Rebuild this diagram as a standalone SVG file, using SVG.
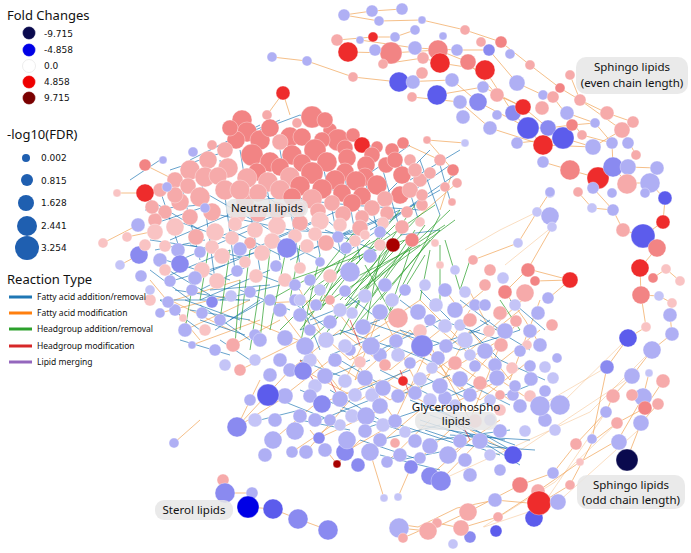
<svg xmlns="http://www.w3.org/2000/svg" width="691" height="553" viewBox="0 0 691 553">
<style>
text{font-family:"Noto Sans","DejaVu Sans",sans-serif;fill:#111}
.t{font-size:13px}.v{font-size:9px;font-family:"DejaVu Sans",sans-serif}.r{font-size:8.5px}
.lab{font-size:11.5px;text-anchor:middle}
.box{fill:#e6e6e6;fill-opacity:0.85}
circle{stroke:#fff;stroke-width:0.6;stroke-opacity:0.55}
.p1{fill:#f9c3c3}.p2{fill:#f6aaaa}.p3{fill:#f28484}.p4{fill:#ee2c2c}.p5{fill:#a80000}
.l1{fill:#c4c4f7}.l2{fill:#afaff4}.l3{fill:#8a8af0}.l4{fill:#5c5cec}.l5{fill:#0000e6}.l6{fill:#0a0a4e}
.lg{fill:#1f5fb0;stroke:none}
.eb{stroke:#1f77b4;stroke-width:0.8;fill:none;stroke-opacity:0.85}
.eo{stroke:#f0a050;stroke-width:0.8;fill:none;stroke-opacity:0.85}
.eo2{stroke:#f0a050;stroke-width:0.7;fill:none;stroke-opacity:0.5}
.eg{stroke:#2ca02c;stroke-width:0.9;fill:none;stroke-opacity:0.8}
.er{stroke:#d62728;stroke-width:0.8;fill:none;stroke-opacity:0.8}
</style>
<rect width="691" height="553" fill="#fff"/>
<g id="connectors">
<path class="eo" d="M272 57L307 61L353 77L399 82L452 80L478 102L528 128L548 128L572 125L595 123M344 15L372 11L402 9M344 15L379 21L422 20L465 30L501 42L530 65L560 88L580 100L607 113L633 122M337 40L373 37L395 37L415 30M348 52L391 53L438 50L468 62L497 95L523 107M360 40L415 48L457 50L489 50L517 83L543 95M383 64L423 58L440 63L485 70L513 113L543 145M412 97L460 102L490 128L543 145L593 147L622 130L636 155M437 95L483 87L523 107L548 128L563 138L593 147M517 143L563 138M543 162L570 170L598 178L628 167L657 168M595 123L612 143L613 167L627 183L650 183L665 199L663 222L643 236L657 248L640 268L641 295L646 327L628 338L607 367L592 439M580 100L622 130M570 75L580 100M553 97L582 135L612 143M567 113L595 123M598 178L593 188L613 210L623 230L643 236M578 192L592 208L613 210M550 192L537 212L518 243L473 260M550 216L552 227L528 269L505 292M570 280L535 281M570 280L528 269M570 280L550 297M653 278L666 269L680 281M641 295L659 296L672 303L670 315L672 334L652 350L632 376L613 396L606 412L576 444L553 473L520 485L468 512L428 531L399 528M649 373L643 397L618 440L580 462L538 491L498 517L461 528L437 523L403 538M663 381L645 408L617 423L593 441L570 485L539 504L495 500L457 508L418 527L390 523M658 404L641 423L627 459M427 140L465 143M145 193L117 193M138 225L103 243M127 237L160 230M139 255L120 265M145 165L175 180M283 93L290 115M283 93L267 115M403 143L440 160M427 140L453 170M453 170L440 210M457 183L420 215M337 464L310 430M337 464L360 440M384 498L370 452M398 497L411 467M174 443L200 420M223 480L225 493L252 493L248 507L273 509L298 519L328 530M237 427L260 380M237 427L290 370M237 427L280 400M273 440L320 400M292 452L340 420M306 452L350 400M319 438L380 410M345 452L400 420M370 452L420 410M387 462L430 420M411 467L450 430M430 476L470 440M441 480L480 440M448 455L500 420M513 455L470 430M265 303L330 300M248 320L310 345M233 345L280 320M240 370L300 340M185 330L250 300M192 345L260 320M168 302L240 280M160 313L230 295"/>
<path class="eo2" d="M628 338L560 405M607 367L538 407M632 376L513 455M617 423L555 482L483 527M645 424L558 502L484 527M652 350L590 412L441 480M537 212L500 230L465 250M552 227L505 265M606 412L534 518"/>
<path class="eo" d="M300 315L350 360L400 330L450 370L500 340M320 290L360 340L420 300L470 350L520 310M290 370L340 330L390 370L440 330L490 370L540 330M303 370L360 400L420 360L480 400L530 360M322 403L380 380L440 410L500 380L545 410M285 395L330 360L390 400L450 360L510 400M345 345L395 420L430 345L470 420L500 345M280 310L340 390L380 310L420 390L470 310M380 312L355 380L410 330L460 390L520 320M440 385L470 330L510 380L540 300M300 290L320 330M470 292L490 330L530 293M505 292L525 320L540 345M445 290L460 310L490 285M150 280L200 340M170 300L230 330"/>
<path class="eb" d="M150 200L200 230M160 215L230 240M170 240L240 210M180 260L250 230M190 280L260 250M200 300L270 270M210 240L290 210M230 260L300 240M250 250L320 220M270 240L340 210M290 260L350 230M310 250L380 220M330 240L400 210M350 250L420 200M370 230L440 190M390 220L455 175M400 200L450 165M410 180L460 150M380 200L430 150M360 180L410 145M170 170L230 150M190 160L240 135M210 150L260 125M230 140L280 120M260 130L300 115M300 115L350 140M320 125L380 150M160 190L180 250M180 180L200 260M200 170L215 280M220 160L235 270M240 150L260 270M260 150L280 260M280 150L300 265M300 150L320 255M320 150L340 250M340 150L360 260M360 160L380 240M380 160L400 230M400 160L420 225M420 160L440 215M440 165L450 200M145 210L200 205M150 240L220 250M165 260L230 280M175 290L240 300M190 310L250 320M160 300L200 330M260 200L300 195M300 200L350 205M350 205L420 210M220 215L290 230M290 230L360 235M230 250L170 275M250 265L200 290M280 285L220 300M200 190L270 230M240 175L310 230M280 180L350 240M320 180L390 235M210 205L150 225M400 235L440 230M160 265L210 295M185 300L240 320M215 330L260 300M265 300L230 320M160 300L250 300M250 340L200 305M130 180L160 160M155 250L205 240M190 245L245 258M230 230L280 255M270 235L320 260M300 225L345 255M325 230L375 250M150 270L190 300M175 280L225 265M210 290L270 285M240 290L290 310M260 275L300 290M200 320L245 335M180 340L230 355M220 340L250 360"/>
<path class="eb" d="M290 300L330 330M300 330L350 310M320 340L380 320M340 330L400 350M360 320L420 340M380 350L440 320M400 330L460 350M420 350L480 330M440 320L500 340M460 350L520 330M480 320L530 350M300 360L350 380M320 380L370 360M340 360L390 390M360 390L410 370M380 370L430 395M400 395L450 375M420 375L470 400M440 400L490 380M460 380L510 405M480 405L530 385M320 420L370 400M340 410L400 430M360 430L420 410M380 440L440 425M400 425L460 445M420 420L510 450M420 425L505 440M425 430L500 455M430 415L515 445M435 440L510 430M440 410L520 455M450 435L530 440M455 425L520 465M460 445L535 450M360 440L420 460M380 455L440 470M400 460L450 450M280 400L330 420M300 420L350 430M260 420L300 410M400 300L440 330M420 290L450 320M460 300L500 330M340 290L380 320M300 300L320 350M510 300L545 330M500 360L545 380M470 330L500 360M310 320L360 300M330 355L380 335M390 345L440 365M450 345L490 320M300 390L350 410M330 390L380 420M410 400L460 420"/>
<path class="eg" d="M380 200L300 300M400 210L320 310M420 215L340 300M440 230L360 320M430 240L380 300M410 250L390 310M395 225L330 290M415 230L350 330M425 225L370 300M440 215L400 290M405 240L290 280M385 235L270 300M370 240L280 330M360 250L300 330M350 245L320 310M430 250L420 300M440 245L440 300M445 240L460 290M420 245L350 280M400 255L310 340M390 245L340 335M380 255L365 330M365 265L395 320M435 205L310 290M450 210L335 320M445 225L300 320M415 205L325 335M455 220L360 290M210 240L200 300M230 250L220 320M250 250L240 330M270 250L260 340M285 255L270 330M300 245L290 300M320 255L300 345M340 260L320 300M195 270L185 330M240 280L235 345M260 285L250 350M500 300L520 330M470 260L460 290M410 235L345 300M395 240L355 310M425 255L385 320"/>
<path class="er" d="M300 360L320 390M400 370L410 395M350 320L360 345M460 420L470 440M330 380L340 400"/>
</g>
<g id="neutral-lipids">
<circle cx="242" cy="120" r="10" class="p3"/><circle cx="247" cy="132" r="10" class="p3"/><circle cx="267" cy="115" r="5" class="p2"/><circle cx="283" cy="93" r="7" class="p4"/><circle cx="297" cy="123" r="5" class="p2"/><circle cx="312" cy="117" r="11" class="p3"/><circle cx="290" cy="137" r="10" class="p3"/><circle cx="280" cy="142" r="8" class="p2"/><circle cx="330" cy="130" r="7" class="p3"/><circle cx="338" cy="140" r="11" class="p3"/><circle cx="353" cy="135" r="7" class="p3"/><circle cx="362" cy="145" r="8" class="p4"/><circle cx="377" cy="147" r="6" class="p3"/><circle cx="403" cy="143" r="6" class="p3"/><circle cx="427" cy="140" r="4" class="p2"/><circle cx="465" cy="143" r="4" class="l1"/>
<circle cx="260" cy="140" r="10" class="p3"/><circle cx="302" cy="137" r="9" class="p3"/><circle cx="322" cy="140" r="8" class="p3"/><circle cx="345" cy="148" r="8" class="p3"/><circle cx="372" cy="155" r="8" class="p3"/><circle cx="392" cy="150" r="7" class="p3"/><circle cx="236" cy="140" r="9" class="p3"/><circle cx="230" cy="128" r="8" class="p3"/><circle cx="325" cy="120" r="8" class="p3"/><circle cx="270" cy="128" r="9" class="p3"/>
<circle cx="225" cy="150" r="8" class="p2"/><circle cx="208" cy="160" r="9" class="p2"/><circle cx="190" cy="170" r="10" class="p2"/><circle cx="175" cy="180" r="8" class="p2"/><circle cx="160" cy="190" r="7" class="p2"/><circle cx="205" cy="177" r="10" class="p2"/><circle cx="228" cy="168" r="10" class="p2"/><circle cx="252" cy="155" r="11" class="p3"/><circle cx="270" cy="162" r="10" class="p3"/><circle cx="292" cy="155" r="10" class="p3"/><circle cx="315" cy="150" r="11" class="p3"/><circle cx="327" cy="162" r="10" class="p3"/><circle cx="347" cy="158" r="9" class="p3"/><circle cx="366" cy="165" r="9" class="p3"/><circle cx="386" cy="165" r="8" class="p3"/><circle cx="402" cy="175" r="9" class="p3"/><circle cx="420" cy="180" r="7" class="p2"/><circle cx="410" cy="160" r="6" class="p2"/><circle cx="415" cy="170" r="7" class="p2"/><circle cx="395" cy="160" r="8" class="p3"/><circle cx="257" cy="172" r="9" class="p3"/><circle cx="280" cy="167" r="9" class="p3"/><circle cx="302" cy="163" r="9" class="p3"/><circle cx="345" cy="172" r="9" class="p3"/><circle cx="365" cy="177" r="9" class="p3"/><circle cx="218" cy="176" r="9" class="p2"/><circle cx="188" cy="186" r="8" class="p2"/>
<circle cx="400" cy="195" r="9" class="p3"/><circle cx="377" cy="185" r="10" class="p3"/><circle cx="356" cy="181" r="10" class="p3"/><circle cx="335" cy="180" r="10" class="p3"/><circle cx="312" cy="173" r="11" class="p3"/><circle cx="290" cy="177" r="10" class="p2"/><circle cx="268" cy="182" r="10" class="p2"/><circle cx="247" cy="178" r="10" class="p2"/><circle cx="225" cy="190" r="10" class="p2"/><circle cx="200" cy="197" r="10" class="p2"/><circle cx="180" cy="202" r="9" class="p2"/><circle cx="165" cy="212" r="7" class="p2"/><circle cx="190" cy="217" r="8" class="p2"/><circle cx="212" cy="212" r="9" class="p2"/><circle cx="245" cy="202" r="9" class="p2"/><circle cx="240" cy="190" r="10" class="p2"/><circle cx="258" cy="193" r="9" class="p2"/><circle cx="280" cy="190" r="10" class="p2"/><circle cx="300" cy="186" r="10" class="p3"/><circle cx="322" cy="189" r="10" class="p3"/><circle cx="342" cy="193" r="9" class="p3"/><circle cx="362" cy="196" r="9" class="p3"/><circle cx="385" cy="199" r="8" class="p2"/><circle cx="410" cy="190" r="8" class="p2"/><circle cx="292" cy="197" r="9" class="p3"/><circle cx="312" cy="199" r="10" class="p2"/><circle cx="332" cy="203" r="8" class="p2"/><circle cx="352" cy="203" r="9" class="p3"/><circle cx="372" cy="208" r="8" class="p2"/><circle cx="387" cy="213" r="7" class="p2"/><circle cx="407" cy="212" r="6" class="p2"/><circle cx="422" cy="205" r="6" class="p2"/><circle cx="440" cy="160" r="6" class="p2"/><circle cx="453" cy="170" r="6" class="p3"/><circle cx="457" cy="183" r="5" class="p2"/><circle cx="430" cy="173" r="6" class="p2"/><circle cx="445" cy="187" r="5" class="p2"/><circle cx="422" cy="195" r="6" class="p2"/><circle cx="452" cy="202" r="4" class="p2"/><circle cx="175" cy="195" r="8" class="p2"/><circle cx="155" cy="220" r="7" class="p2"/>
<circle cx="145" cy="193" r="9" class="p4"/><circle cx="145" cy="165" r="6" class="p3"/><circle cx="117" cy="193" r="4" class="p1"/><circle cx="103" cy="243" r="5" class="p1"/><circle cx="127" cy="237" r="5" class="p1"/><circle cx="138" cy="225" r="7" class="l2"/><circle cx="139" cy="255" r="9" class="l3"/><circle cx="163" cy="160" r="4" class="l2"/><circle cx="193" cy="152" r="5" class="l2"/><circle cx="212" cy="145" r="5" class="p2"/><circle cx="167" cy="187" r="5" class="l2"/><circle cx="205" cy="208" r="5" class="l2"/><circle cx="152" cy="207" r="7" class="p2"/>
<circle cx="238" cy="215" r="8" class="p1"/><circle cx="258" cy="213" r="9" class="p2"/><circle cx="278" cy="211" r="9" class="p2"/><circle cx="298" cy="209" r="8" class="p2"/><circle cx="318" cy="211" r="8" class="p2"/><circle cx="343" cy="214" r="8" class="p2"/><circle cx="362" cy="217" r="7" class="p2"/><circle cx="383" cy="223" r="6" class="p1"/>
<circle cx="155" cy="232" r="8" class="p1"/><circle cx="175" cy="227" r="9" class="p1"/><circle cx="196" cy="237" r="8" class="p2"/><circle cx="215" cy="232" r="9" class="p1"/><circle cx="235" cy="224" r="7" class="p1"/><circle cx="255" cy="230" r="8" class="p1"/><circle cx="277" cy="226" r="9" class="p1"/><circle cx="300" cy="223" r="8" class="p2"/><circle cx="320" cy="221" r="9" class="p1"/><circle cx="340" cy="225" r="7" class="p1"/><circle cx="360" cy="228" r="8" class="p2"/><circle cx="380" cy="232" r="6" class="l2"/><circle cx="402" cy="227" r="7" class="p2"/><circle cx="420" cy="222" r="5" class="p1"/>
<circle cx="145" cy="245" r="6" class="p1"/><circle cx="165" cy="246" r="6" class="p1"/><circle cx="212" cy="247" r="7" class="p1"/><circle cx="232" cy="238" r="7" class="p1"/><circle cx="250" cy="243" r="6" class="p2"/><circle cx="272" cy="241" r="8" class="p1"/><circle cx="295" cy="236" r="7" class="p1"/><circle cx="315" cy="234" r="7" class="p1"/><circle cx="338" cy="237" r="6" class="l2"/><circle cx="355" cy="241" r="6" class="p1"/><circle cx="380" cy="245" r="6" class="p1"/>
<circle cx="178" cy="250" r="7" class="l2"/><circle cx="180" cy="264" r="9" class="l3"/><circle cx="160" cy="260" r="7" class="l2"/><circle cx="170" cy="281" r="6" class="l2"/><circle cx="192" cy="290" r="6" class="l2"/><circle cx="202" cy="270" r="8" class="p1"/><circle cx="222" cy="256" r="8" class="p1"/><circle cx="240" cy="249" r="7" class="l2"/><circle cx="262" cy="253" r="8" class="p1"/><circle cx="287" cy="248" r="10" class="l3"/><circle cx="307" cy="246" r="7" class="p1"/><circle cx="326" cy="243" r="8" class="p2"/><circle cx="346" cy="248" r="6" class="l2"/><circle cx="370" cy="256" r="7" class="l2"/><circle cx="350" cy="272" r="10" class="l2"/><circle cx="393" cy="245" r="7" class="p5"/><circle cx="412" cy="240" r="7" class="p3"/><circle cx="435" cy="243" r="4" class="p1"/>
<circle cx="165" cy="270" r="6" class="p1"/><circle cx="195" cy="278" r="7" class="l2"/><circle cx="245" cy="262" r="6" class="p1"/><circle cx="285" cy="280" r="7" class="p1"/><circle cx="310" cy="280" r="6" class="l2"/><circle cx="330" cy="276" r="7" class="p1"/><circle cx="270" cy="300" r="6" class="l2"/><circle cx="295" cy="300" r="6" class="l2"/><circle cx="150" cy="300" r="6" class="p1"/><circle cx="175" cy="310" r="6" class="l2"/><circle cx="220" cy="320" r="6" class="l2"/><circle cx="205" cy="330" r="6" class="p1"/><circle cx="255" cy="335" r="6" class="l2"/><circle cx="215" cy="350" r="6" class="l2"/><circle cx="225" cy="365" r="6" class="l1"/>
<circle cx="217" cy="281" r="8" class="p1"/><circle cx="237" cy="271" r="6" class="l2"/><circle cx="256" cy="276" r="7" class="p1"/><circle cx="276" cy="266" r="6" class="l2"/><circle cx="300" cy="268" r="6" class="p1"/><circle cx="320" cy="262" r="5" class="l2"/><circle cx="231" cy="296" r="6" class="l1"/><circle cx="250" cy="292" r="6" class="l2"/><circle cx="212" cy="302" r="6" class="l3"/><circle cx="202" cy="313" r="6" class="l2"/><circle cx="168" cy="302" r="6" class="l2"/><circle cx="160" cy="313" r="5" class="l2"/><circle cx="183" cy="318" r="4" class="p1"/><circle cx="185" cy="330" r="7" class="l2"/><circle cx="192" cy="345" r="4" class="l2"/><circle cx="120" cy="265" r="5" class="l1"/><circle cx="141" cy="276" r="6" class="l2"/><circle cx="200" cy="252" r="6" class="l2"/><circle cx="330" cy="300" r="5" class="p2"/><circle cx="233" cy="345" r="7" class="p2"/><circle cx="240" cy="370" r="6" class="p2"/><circle cx="150" cy="290" r="5" class="l1"/><circle cx="365" cy="235" r="5" class="p1"/>
</g>
<g id="glycerophospho-lipids">
<circle cx="295" cy="285" r="6" class="l2"/><circle cx="320" cy="290" r="6" class="l1"/><circle cx="345" cy="291" r="6" class="l2"/><circle cx="365" cy="296" r="7" class="l1"/><circle cx="385" cy="285" r="7" class="l2"/><circle cx="405" cy="290" r="6" class="l2"/><circle cx="425" cy="285" r="6" class="l1"/><circle cx="445" cy="290" r="7" class="l2"/><circle cx="465" cy="292" r="6" class="l1"/><circle cx="485" cy="285" r="6" class="p2"/><circle cx="505" cy="292" r="7" class="p3"/><circle cx="525" cy="293" r="9" class="p2"/><circle cx="528" cy="270" r="7" class="p3"/><circle cx="535" cy="281" r="5" class="p3"/><circle cx="548" cy="298" r="6" class="l2"/><circle cx="570" cy="280" r="8" class="p4"/><circle cx="518" cy="243" r="5" class="l1"/><circle cx="537" cy="212" r="5" class="l1"/><circle cx="550" cy="216" r="9" class="l2"/><circle cx="552" cy="227" r="5" class="l1"/><circle cx="550" cy="193" r="5" class="l1"/><circle cx="473" cy="260" r="5" class="p2"/><circle cx="490" cy="270" r="6" class="p2"/><circle cx="503" cy="278" r="6" class="l1"/><circle cx="455" cy="270" r="5" class="l1"/><circle cx="440" cy="265" r="4" class="p1"/>
<circle cx="300" cy="300" r="6" class="l1"/><circle cx="330" cy="322" r="7" class="l2"/><circle cx="352" cy="313" r="6" class="l1"/><circle cx="392" cy="300" r="7" class="l1"/><circle cx="430" cy="320" r="6" class="l2"/><circle cx="460" cy="325" r="6" class="l1"/><circle cx="475" cy="305" r="6" class="l2"/><circle cx="515" cy="305" r="6" class="l1"/><circle cx="527" cy="345" r="5" class="p1"/><circle cx="545" cy="367" r="6" class="l1"/><circle cx="310" cy="330" r="6" class="l2"/>
<circle cx="280" cy="310" r="7" class="l2"/><circle cx="300" cy="315" r="7" class="l2"/><circle cx="316" cy="305" r="6" class="l2"/><circle cx="340" cy="310" r="7" class="l1"/><circle cx="363" cy="327" r="8" class="l2"/><circle cx="380" cy="312" r="8" class="l2"/><circle cx="398" cy="318" r="10" class="p2"/><circle cx="418" cy="312" r="8" class="l2"/><circle cx="436" cy="305" r="7" class="l1"/><circle cx="455" cy="310" r="8" class="l2"/><circle cx="470" cy="320" r="7" class="p2"/><circle cx="485" cy="305" r="6" class="l2"/><circle cx="500" cy="313" r="7" class="p2"/><circle cx="516" cy="321" r="6" class="p2"/><circle cx="530" cy="331" r="7" class="l2"/><circle cx="538" cy="313" r="7" class="l2"/><circle cx="552" cy="325" r="6" class="p2"/><circle cx="505" cy="331" r="8" class="l2"/><circle cx="489" cy="331" r="6" class="p1"/><circle cx="445" cy="326" r="7" class="l1"/><circle cx="420" cy="331" r="7" class="p1"/>
<circle cx="310" cy="360" r="7" class="l1"/><circle cx="335" cy="360" r="7" class="l2"/><circle cx="350" cy="350" r="6" class="l2"/><circle cx="380" cy="355" r="7" class="l2"/><circle cx="398" cy="355" r="7" class="l1"/><circle cx="438" cy="358" r="7" class="l2"/><circle cx="470" cy="355" r="6" class="l1"/><circle cx="495" cy="365" r="7" class="l2"/><circle cx="512" cy="368" r="6" class="p1"/><circle cx="280" cy="360" r="7" class="l2"/><circle cx="270" cy="375" r="7" class="l2"/><circle cx="255" cy="360" r="6" class="l1"/>
<circle cx="260" cy="340" r="7" class="l2"/><circle cx="285" cy="338" r="8" class="l2"/><circle cx="305" cy="346" r="9" class="l2"/><circle cx="326" cy="340" r="8" class="l1"/><circle cx="345" cy="346" r="7" class="l1"/><circle cx="371" cy="346" r="9" class="l2"/><circle cx="396" cy="341" r="7" class="l2"/><circle cx="422" cy="346" r="11" class="l3"/><circle cx="446" cy="346" r="7" class="l2"/><circle cx="465" cy="340" r="8" class="l1"/><circle cx="485" cy="351" r="8" class="l2"/><circle cx="501" cy="345" r="7" class="p2"/><circle cx="520" cy="351" r="6" class="l2"/><circle cx="540" cy="345" r="7" class="l2"/><circle cx="557" cy="358" r="5" class="l2"/><circle cx="360" cy="362" r="6" class="p1"/><circle cx="410" cy="363" r="6" class="l2"/><circle cx="455" cy="363" r="7" class="p2"/><circle cx="475" cy="366" r="6" class="l2"/><circle cx="530" cy="366" r="6" class="l2"/><circle cx="385" cy="365" r="6" class="p2"/><circle cx="432" cy="368" r="6" class="l1"/>
<circle cx="315" cy="386" r="7" class="l1"/><circle cx="355" cy="395" r="7" class="l1"/><circle cx="372" cy="395" r="7" class="l1"/><circle cx="398" cy="396" r="7" class="l2"/><circle cx="415" cy="393" r="7" class="l2"/><circle cx="430" cy="400" r="7" class="l1"/><circle cx="445" cy="398" r="7" class="l2"/><circle cx="470" cy="395" r="7" class="l2"/><circle cx="513" cy="395" r="6" class="l2"/><circle cx="530" cy="396" r="6" class="p1"/><circle cx="553" cy="378" r="6" class="l1"/>
<circle cx="290" cy="370" r="7" class="l2"/><circle cx="303" cy="371" r="9" class="l3"/><circle cx="325" cy="376" r="8" class="l2"/><circle cx="345" cy="381" r="7" class="l1"/><circle cx="365" cy="378" r="8" class="l2"/><circle cx="383" cy="388" r="8" class="l2"/><circle cx="420" cy="379" r="7" class="l1"/><circle cx="440" cy="386" r="8" class="l2"/><circle cx="460" cy="379" r="8" class="l2"/><circle cx="480" cy="383" r="7" class="p2"/><circle cx="497" cy="378" r="8" class="l2"/><circle cx="515" cy="386" r="6" class="l2"/><circle cx="531" cy="379" r="7" class="l2"/><circle cx="545" cy="391" r="6" class="l2"/><circle cx="285" cy="396" r="8" class="l2"/><circle cx="310" cy="396" r="7" class="l2"/><circle cx="322" cy="404" r="9" class="l3"/><circle cx="340" cy="399" r="8" class="l2"/><circle cx="352" cy="416" r="7" class="l1"/><circle cx="366" cy="416" r="9" class="l2"/><circle cx="403" cy="381" r="5" class="p4"/>
<circle cx="275" cy="420" r="7" class="l2"/><circle cx="315" cy="420" r="7" class="l2"/><circle cx="340" cy="425" r="6" class="l1"/><circle cx="365" cy="431" r="7" class="l2"/><circle cx="383" cy="425" r="7" class="l1"/><circle cx="405" cy="432" r="6" class="l1"/><circle cx="380" cy="440" r="7" class="l2"/><circle cx="325" cy="450" r="7" class="l2"/><circle cx="358" cy="465" r="7" class="l3"/><circle cx="400" cy="455" r="7" class="l2"/><circle cx="420" cy="458" r="6" class="l2"/><circle cx="465" cy="460" r="7" class="l2"/><circle cx="490" cy="455" r="6" class="l1"/><circle cx="500" cy="470" r="6" class="l2"/><circle cx="470" cy="475" r="7" class="l2"/><circle cx="490" cy="420" r="6" class="l2"/><circle cx="545" cy="420" r="7" class="l2"/><circle cx="555" cy="430" r="6" class="l1"/><circle cx="265" cy="455" r="7" class="l2"/>
<circle cx="380" cy="406" r="8" class="l2"/><circle cx="395" cy="421" r="7" class="l2"/><circle cx="540" cy="406" r="10" class="l2"/><circle cx="560" cy="405" r="10" class="l2"/><circle cx="520" cy="406" r="7" class="l2"/><circle cx="500" cy="410" r="6" class="p1"/><circle cx="475" cy="421" r="7" class="p2"/><circle cx="480" cy="441" r="8" class="l2"/><circle cx="500" cy="431" r="7" class="l2"/><circle cx="525" cy="431" r="6" class="l1"/><circle cx="513" cy="455" r="9" class="l4"/><circle cx="295" cy="431" r="9" class="l2"/><circle cx="237" cy="427" r="10" class="l3"/><circle cx="273" cy="440" r="9" class="l2"/><circle cx="292" cy="452" r="6" class="l2"/><circle cx="306" cy="452" r="7" class="l2"/><circle cx="319" cy="438" r="6" class="l3"/><circle cx="345" cy="452" r="9" class="l3"/><circle cx="347" cy="440" r="9" class="l2"/><circle cx="370" cy="452" r="9" class="l2"/><circle cx="387" cy="462" r="6" class="l2"/><circle cx="395" cy="443" r="5" class="p2"/><circle cx="411" cy="467" r="7" class="l3"/><circle cx="430" cy="476" r="9" class="l3"/><circle cx="441" cy="481" r="10" class="l3"/><circle cx="448" cy="455" r="9" class="l2"/><circle cx="430" cy="446" r="8" class="l2"/><circle cx="460" cy="441" r="7" class="l2"/><circle cx="415" cy="441" r="7" class="l2"/><circle cx="337" cy="464" r="4" class="p5"/><circle cx="384" cy="498" r="4" class="l1"/><circle cx="398" cy="497" r="4" class="l1"/><circle cx="174" cy="443" r="5" class="l2"/><circle cx="255" cy="420" r="7" class="l1"/><circle cx="300" cy="416" r="7" class="l2"/><circle cx="250" cy="400" r="6" class="l2"/><circle cx="268" cy="395" r="11" class="l4"/><circle cx="490" cy="400" r="6" class="l1"/><circle cx="455" cy="405" r="6" class="l1"/><circle cx="330" cy="420" r="6" class="l2"/><circle cx="500" cy="395" r="5" class="p2"/>
</g>
<g id="sphingo-even">
<circle cx="344" cy="15" r="6" class="l2"/><circle cx="372" cy="11" r="6" class="l2"/><circle cx="402" cy="9" r="6" class="l2"/><circle cx="379" cy="21" r="5" class="l2"/><circle cx="272" cy="57" r="5" class="l2"/><circle cx="307" cy="61" r="5" class="l2"/><circle cx="353" cy="77" r="5" class="p2"/><circle cx="337" cy="40" r="6" class="p2"/><circle cx="348" cy="52" r="10" class="p4"/><circle cx="373" cy="37" r="5" class="p4"/><circle cx="391" cy="53" r="11" class="p3"/><circle cx="360" cy="40" r="4" class="l2"/><circle cx="375" cy="50" r="6" class="l2"/><circle cx="383" cy="64" r="5" class="p2"/><circle cx="395" cy="37" r="5" class="l2"/><circle cx="415" cy="30" r="5" class="l2"/><circle cx="422" cy="20" r="4" class="l2"/><circle cx="415" cy="48" r="7" class="l2"/><circle cx="399" cy="82" r="10" class="l4"/><circle cx="413" cy="82" r="7" class="l2"/><circle cx="412" cy="97" r="5" class="p2"/><circle cx="423" cy="58" r="6" class="p2"/><circle cx="422" cy="73" r="6" class="p2"/><circle cx="438" cy="50" r="10" class="p3"/><circle cx="440" cy="63" r="10" class="p4"/><circle cx="443" cy="36" r="4" class="l2"/><circle cx="437" cy="95" r="10" class="l4"/><circle cx="452" cy="80" r="7" class="l2"/><circle cx="457" cy="50" r="6" class="l2"/><circle cx="468" cy="62" r="8" class="p3"/><circle cx="465" cy="30" r="5" class="p2"/><circle cx="485" cy="70" r="10" class="p4"/><circle cx="489" cy="50" r="6" class="l3"/><circle cx="481" cy="42" r="5" class="p2"/><circle cx="501" cy="42" r="6" class="p3"/><circle cx="510" cy="54" r="5" class="l2"/><circle cx="460" cy="102" r="7" class="l2"/><circle cx="463" cy="117" r="7" class="l2"/><circle cx="478" cy="102" r="9" class="l3"/><circle cx="483" cy="87" r="6" class="l2"/><circle cx="497" cy="95" r="7" class="p2"/><circle cx="490" cy="128" r="7" class="l2"/><circle cx="497" cy="115" r="5" class="l2"/><circle cx="517" cy="83" r="8" class="l2"/><circle cx="530" cy="65" r="5" class="p2"/><circle cx="513" cy="113" r="8" class="l3"/><circle cx="523" cy="107" r="8" class="p4"/><circle cx="528" cy="128" r="11" class="l4"/><circle cx="542" cy="108" r="7" class="p2"/><circle cx="543" cy="95" r="5" class="l2"/><circle cx="553" cy="97" r="6" class="p2"/><circle cx="560" cy="88" r="5" class="p3"/><circle cx="548" cy="128" r="8" class="l3"/><circle cx="563" cy="138" r="11" class="l4"/><circle cx="543" cy="145" r="10" class="p4"/><circle cx="517" cy="143" r="6" class="l2"/><circle cx="567" cy="113" r="7" class="l2"/><circle cx="570" cy="75" r="5" class="p2"/><circle cx="580" cy="100" r="6" class="p2"/><circle cx="572" cy="125" r="6" class="p3"/><circle cx="582" cy="135" r="5" class="p2"/><circle cx="543" cy="162" r="6" class="l2"/><circle cx="570" cy="170" r="10" class="p3"/><circle cx="593" cy="147" r="8" class="l2"/><circle cx="595" cy="123" r="5" class="l2"/><circle cx="607" cy="113" r="7" class="p2"/><circle cx="622" cy="130" r="8" class="p2"/><circle cx="633" cy="122" r="6" class="p2"/><circle cx="612" cy="143" r="6" class="l2"/><circle cx="628" cy="143" r="6" class="l2"/><circle cx="598" cy="178" r="11" class="p4"/><circle cx="613" cy="167" r="10" class="l3"/><circle cx="628" cy="167" r="8" class="l2"/><circle cx="636" cy="155" r="5" class="p2"/><circle cx="593" cy="188" r="6" class="l2"/><circle cx="627" cy="184" r="10" class="p2"/><circle cx="650" cy="183" r="10" class="l2"/><circle cx="657" cy="168" r="7" class="l2"/><circle cx="665" cy="198" r="7" class="l4"/><circle cx="645" cy="193" r="5" class="l2"/><circle cx="550" cy="192" r="5" class="l2"/><circle cx="578" cy="192" r="5" class="p2"/><circle cx="612" cy="193" r="5" class="l2"/><circle cx="592" cy="208" r="5" class="l1"/><circle cx="613" cy="210" r="6" class="l2"/><circle cx="623" cy="230" r="7" class="p2"/><circle cx="643" cy="236" r="12" class="l4"/><circle cx="657" cy="248" r="9" class="p3"/><circle cx="663" cy="222" r="7" class="p4"/><circle cx="640" cy="268" r="9" class="p4"/><circle cx="653" cy="278" r="5" class="p3"/><circle cx="666" cy="269" r="5" class="p1"/><circle cx="680" cy="281" r="5" class="p1"/><circle cx="641" cy="295" r="9" class="p3"/><circle cx="659" cy="296" r="5" class="l1"/><circle cx="672" cy="303" r="5" class="p1"/><circle cx="670" cy="315" r="7" class="l2"/><circle cx="646" cy="327" r="5" class="p1"/><circle cx="672" cy="334" r="7" class="l2"/><circle cx="628" cy="338" r="9" class="l4"/><circle cx="652" cy="350" r="9" class="l2"/>
</g>
<g id="sphingo-odd">
<circle cx="607" cy="367" r="7" class="l3"/><circle cx="632" cy="376" r="8" class="l2"/><circle cx="649" cy="373" r="4" class="l1"/><circle cx="663" cy="381" r="7" class="p2"/><circle cx="613" cy="396" r="7" class="p2"/><circle cx="643" cy="397" r="9" class="l2"/><circle cx="632" cy="395" r="6" class="p2"/><circle cx="645" cy="408" r="7" class="p3"/><circle cx="658" cy="404" r="6" class="p2"/><circle cx="606" cy="412" r="6" class="l2"/><circle cx="617" cy="423" r="6" class="p2"/><circle cx="641" cy="423" r="8" class="l2"/><circle cx="592" cy="439" r="5" class="l2"/><circle cx="619" cy="442" r="8" class="l2"/><circle cx="576" cy="444" r="6" class="p2"/><circle cx="580" cy="462" r="4" class="p1"/><circle cx="627" cy="460" r="11" class="l6"/><circle cx="553" cy="473" r="6" class="l2"/><circle cx="570" cy="485" r="5" class="p2"/><circle cx="520" cy="485" r="8" class="p3"/><circle cx="538" cy="491" r="7" class="p2"/><circle cx="534" cy="518" r="9" class="l4"/><circle cx="539" cy="503" r="12" class="p4"/><circle cx="558" cy="502" r="8" class="l2"/><circle cx="495" cy="500" r="7" class="l2"/><circle cx="498" cy="517" r="5" class="p2"/><circle cx="496" cy="531" r="6" class="l4"/><circle cx="468" cy="512" r="9" class="p2"/><circle cx="470" cy="537" r="6" class="l3"/><circle cx="461" cy="528" r="8" class="p2"/><circle cx="453" cy="544" r="5" class="l1"/><circle cx="437" cy="523" r="5" class="p2"/><circle cx="428" cy="531" r="9" class="p2"/><circle cx="399" cy="528" r="10" class="l2"/><circle cx="403" cy="538" r="5" class="p2"/>
</g>
<g id="sterol-lipids">
<circle cx="223" cy="480" r="6" class="p2"/><circle cx="225" cy="493" r="10" class="l3"/><circle cx="252" cy="493" r="6" class="l2"/><circle cx="248" cy="507" r="11" class="l5"/><circle cx="273" cy="509" r="10" class="l4"/><circle cx="298" cy="519" r="10" class="l3"/><circle cx="328" cy="530" r="10" class="l3"/>
</g>
<g id="label-neutral"><rect class="box" x="226" y="199" width="82" height="18" rx="8" fill-opacity="0.35"/><text class="lab" x="267" y="212">Neutral lipids</text></g>
<g id="label-glycero"><rect class="box" x="415" y="412" width="82" height="18" rx="8" fill-opacity="0.4"/><text class="lab" x="456" y="411">Glycerophospho</text><text class="lab" x="456" y="425">lipids</text></g>
<g id="label-sphingo-even"><rect class="box" x="576" y="57" width="112" height="37" rx="10"/><text class="lab" x="632" y="71">Sphingo lipids</text><text class="lab" x="632" y="87">(even chain length)</text></g>
<g id="label-sphingo-odd"><rect class="box" x="577" y="475" width="108" height="34" rx="10"/><text class="lab" x="631" y="489">Sphingo lipids</text><text class="lab" x="631" y="504">(odd chain length)</text></g>
<g id="label-sterol"><rect class="box" x="155" y="500" width="78" height="20" rx="9"/><text class="lab" x="194" y="514">Sterol lipids</text></g>
<g id="legend-fold">
<text class="t" x="7" y="20">Fold Changes</text>
<circle cx="29" cy="33" r="6.5" class="l6"/><text class="v" x="44" y="37">-9.715</text>
<circle cx="29" cy="50" r="6.5" class="l5"/><text class="v" x="44" y="53">-4.858</text>
<circle cx="29" cy="66" r="6.5" fill="#fff" style="stroke:#e0e0e0;stroke-opacity:1"/><text class="v" x="44" y="69">0.0</text>
<circle cx="29" cy="82" r="6.5" fill="#ee0000"/><text class="v" x="44" y="85">4.858</text>
<circle cx="29" cy="98" r="6.5" fill="#7a0000"/><text class="v" x="44" y="101">9.715</text>
</g>
<g id="legend-fdr">
<text class="t" x="7" y="139">-log10(FDR)</text>
<circle cx="26" cy="158" r="4" class="lg"/><text class="v" x="41" y="161">0.002</text>
<circle cx="27" cy="180" r="6" class="lg"/><text class="v" x="41" y="184">0.815</text>
<circle cx="26" cy="203" r="8" class="lg"/><text class="v" x="41" y="206">1.628</text>
<circle cx="27" cy="226" r="10" class="lg"/><text class="v" x="41" y="229">2.441</text>
<circle cx="27" cy="248" r="12" class="lg"/><text class="v" x="41" y="251">3.254</text>
</g>
<g id="legend-reaction">
<text class="t" x="7" y="284">Reaction Type</text>
<line x1="9" y1="297" x2="32" y2="297" stroke="#1f77b4" stroke-width="3"/><text class="r" x="37" y="300">Fatty acid addition/removal</text>
<line x1="9" y1="313" x2="32" y2="313" stroke="#ff7f0e" stroke-width="3"/><text class="r" x="37" y="316">Fatty acid modification</text>
<line x1="9" y1="329" x2="32" y2="329" stroke="#2ca02c" stroke-width="3"/><text class="r" x="37" y="332">Headgroup addition/removal</text>
<line x1="9" y1="346" x2="32" y2="346" stroke="#d62728" stroke-width="3"/><text class="r" x="37" y="349">Headgroup modification</text>
<line x1="9" y1="362" x2="32" y2="362" stroke="#9467bd" stroke-width="3"/><text class="r" x="37" y="365">Lipid merging</text>
</g>
</svg>
